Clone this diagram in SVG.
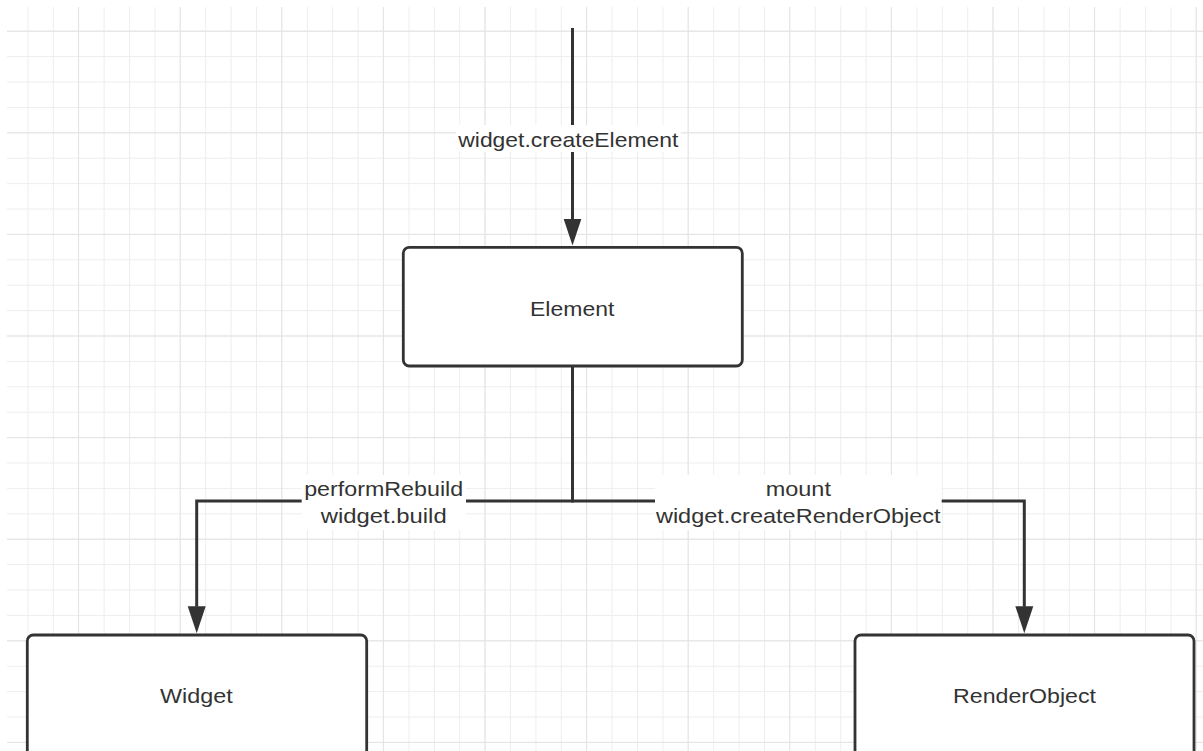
<svg xmlns="http://www.w3.org/2000/svg" width="1203" height="751" viewBox="0 0 1203 751">
  <defs>
    <pattern id="minor" patternUnits="userSpaceOnUse" x="3" y="6.3" width="25.4" height="25.4">
      <path d="M25.3,0 V25.4 M0,25.4 H25.4" fill="none" stroke="#ededed" stroke-width="1.8"/>
    </pattern>
    <pattern id="major" patternUnits="userSpaceOnUse" x="-22.6" y="-69.9" width="101.6" height="101.6">
      <path d="M101.6,0 V101.6 M0,101.6 H101.6" fill="none" stroke="#e3e3e3" stroke-width="1.8"/>
    </pattern>
    <marker id="arrow" markerUnits="userSpaceOnUse" markerWidth="28" markerHeight="19" refX="0.5" refY="9" orient="auto" viewBox="0 0 28 18">
      <path d="M0,0 L27,9 L0,18 z" fill="#333333"/>
    </marker>
    <style>
      .box { fill: #ffffff; stroke: #333333; stroke-width: 2.8; }
      .conn { fill: none; stroke: #333333; stroke-width: 3; }
      .lbl { font-family: "Liberation Sans", Arial, Helvetica, sans-serif; font-size: 21px; fill: #333333; text-anchor: middle; }
      .bg { fill: #ffffff; }
    </style>
  </defs>

  <rect x="0" y="0" width="1203" height="751" fill="#ffffff"/>
  <g id="grid">
    <rect x="7" y="7" width="1196" height="744" fill="url(#minor)"/>
    <rect x="7" y="7" width="1196" height="744" fill="url(#major)"/>
  </g>

  <g id="connectors">
    <path class="conn" d="M572.5,28 V219" marker-end="url(#arrow)"/>
    <path class="conn" d="M572.5,366 V501 H196.7 V606.7" marker-end="url(#arrow)"/>
    <path class="conn" d="M572.5,366 V501 H1024.3 V606.7" marker-end="url(#arrow)"/>
    <g id="label-createElement">
      <rect class="bg" x="456" y="125" width="225" height="27"/>
      <text class="lbl" x="568.3" y="146.7" textLength="220" lengthAdjust="spacingAndGlyphs">widget.createElement</text>
    </g>
    <g id="label-performRebuild">
      <rect class="bg" x="301.7" y="475" width="164.3" height="55"/>
      <text class="lbl" x="383.7" y="496" textLength="159" lengthAdjust="spacingAndGlyphs">performRebuild</text>
      <text class="lbl" x="383.7" y="522.7" textLength="126" lengthAdjust="spacingAndGlyphs">widget.build</text>
    </g>
    <g id="label-mount">
      <rect class="bg" x="655" y="475" width="286.7" height="55"/>
      <text class="lbl" x="798.3" y="496" textLength="65.3" lengthAdjust="spacingAndGlyphs">mount</text>
      <text class="lbl" x="798.3" y="522.7" textLength="284.7" lengthAdjust="spacingAndGlyphs">widget.createRenderObject</text>
    </g>
  </g>

  <g id="node-element">
    <rect class="box" x="403.3" y="247.3" width="339" height="118.7" rx="6"/>
    <text class="lbl" x="572.2" y="315.7" textLength="84.3" lengthAdjust="spacingAndGlyphs">Element</text>
  </g>
  <g id="node-widget">
    <rect class="box" x="27.3" y="635" width="339.4" height="150" rx="6"/>
    <text class="lbl" x="196.3" y="703" textLength="72.7" lengthAdjust="spacingAndGlyphs">Widget</text>
  </g>
  <g id="node-renderobject">
    <rect class="box" x="855" y="635" width="339" height="150" rx="6"/>
    <text class="lbl" x="1024.5" y="703" textLength="143" lengthAdjust="spacingAndGlyphs">RenderObject</text>
  </g>
</svg>
